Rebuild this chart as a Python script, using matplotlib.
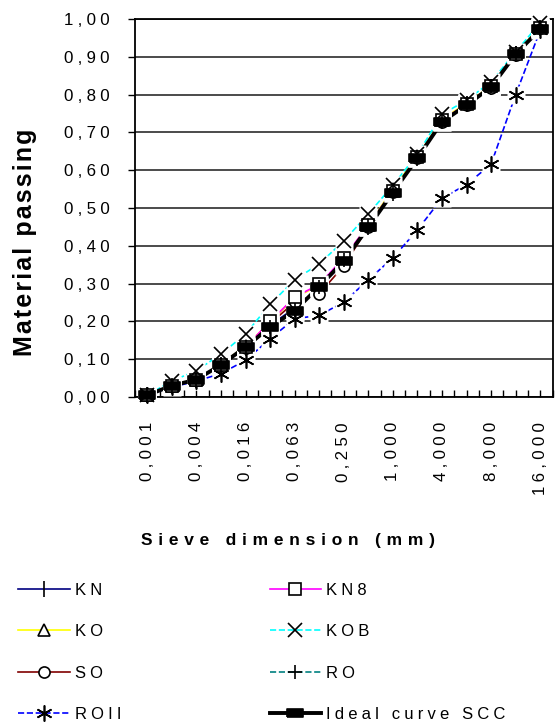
import numpy as np
import matplotlib
matplotlib.use("Agg")
import matplotlib.pyplot as plt
from matplotlib.lines import Line2D

plt.rcParams['font.family'] = ['Liberation Sans', 'DejaVu Sans']

# sieve categories (17 positions), labels on every second one
x_pos = np.arange(17)
x_label_pos = np.arange(0, 17, 2)
x_labels = ["0,001", "0,004", "0,016", "0,063", "0,250", "1,000", "4,000", "8,000", "16,000"]
y_ticks = np.arange(0, 1.01, 0.1)
y_labels = ["0,00", "0,10", "0,20", "0,30", "0,40", "0,50", "0,60", "0,70", "0,80", "0,90", "1,00"]

KN = [0.005, 0.03, 0.046, 0.085, 0.13, 0.19, 0.235, 0.29, 0.355, 0.45, 0.54, 0.632, 0.73, 0.775, 0.82, 0.908, 0.975]
KN8 = [0.005, 0.03, 0.046, 0.085, 0.132, 0.2, 0.264, 0.298, 0.368, 0.455, 0.545, 0.635, 0.732, 0.775, 0.822, 0.908, 0.975]
KO = [0.005, 0.03, 0.046, 0.087, 0.135, 0.198, 0.262, 0.296, 0.366, 0.455, 0.55, 0.637, 0.735, 0.777, 0.823, 0.91, 0.978]
KOB = [0.005, 0.042, 0.07, 0.113, 0.167, 0.245, 0.31, 0.352, 0.413, 0.484, 0.56, 0.642, 0.748, 0.785, 0.834, 0.913, 0.99]
SO = [0.005, 0.03, 0.046, 0.084, 0.13, 0.194, 0.251, 0.273, 0.347, 0.449, 0.543, 0.632, 0.727, 0.772, 0.818, 0.905, 0.975]
RO = [0.005, 0.03, 0.046, 0.085, 0.132, 0.186, 0.23, 0.292, 0.362, 0.452, 0.545, 0.635, 0.73, 0.775, 0.822, 0.909, 0.975]
ROII = [0.005, 0.026, 0.042, 0.062, 0.097, 0.154, 0.207, 0.216, 0.251, 0.31, 0.368, 0.442, 0.526, 0.562, 0.616, 0.80, 0.97]
IDEAL = [0.005, 0.03, 0.046, 0.085, 0.132, 0.185, 0.228, 0.292, 0.36, 0.449, 0.541, 0.632, 0.728, 0.772, 0.82, 0.907, 0.973]


def spaced(s, gap="\u2005"):
    return gap.join(s)


rect = [(-1, -0.45), (1, -0.45), (1, 0.45), (-1, 0.45), (-1, -0.45)]
asterisk = (6, 2, 0)

# name, values, line colour, linestyle, lw, marker, size, face
series = [
    ("KN", KN, "#000080", "-", 1.2, "|", 11, "black"),
    ("KO", KO, "#FFFF00", "-", 1.2, "^", 8, "white"),
    ("SO", SO, "#800000", "-", 1.2, "o", 8, "white"),
    ("ROII", ROII, "#0000FF", "--", 1.2, asterisk, 11.5, "black"),
    ("KN8", KN8, "#FF00FF", "-", 1.2, "s", 8, "white"),
    ("KOB", KOB, "#00FFFF", "--", 1.2, "x", 10, "black"),
    ("RO", RO, "#008080", "--", 1.2, "+", 10, "black"),
    ("Ideal curve SCC", IDEAL, "black", "-", 2.8, rect, 11.5, "black"),
]

fig = plt.figure(figsize=(5.55, 7.24), dpi=100)
ax = fig.add_axes([135 / 555, 1 - 397 / 724, (553 - 135) / 555, (397 - 19) / 724])

for y in y_ticks:
    ax.axhline(y, color="#1a1a1a", lw=1.1, zorder=1)

handles = []
for name, vals, col, ls, lw, mk, ms, face in series:
    ax.plot(x_pos, vals, color=col, ls=ls, lw=lw, zorder=2)
    handles.append(Line2D([], [], color=col, ls=ls, lw=lw, marker=mk, ms=ms,
                          mfc=face, mec="black", mew=1.2, label=spaced(name)))

# white backing behind the markers, as in the original export
for name, vals, col, ls, lw, mk, ms, face in series:
    ax.plot(x_pos, vals, ls="none", marker="s", ms=12.5, mfc="white", mec="none",
            zorder=3, clip_on=False)

for name, vals, col, ls, lw, mk, ms, face in series:
    ax.plot(x_pos, vals, ls="none", marker=mk, ms=ms, mfc=face, mec="black", mew=1.2,
            zorder=4, clip_on=False)

ax.set_xlim(-0.4, 16.52)
ax.set_ylim(0, 1)
ax.set_xticks(x_label_pos, labels=[spaced(t) for t in x_labels])
minor = [v for v in np.arange(-0.5, 16.6, 0.5) if v not in set(x_label_pos)]
ax.set_xticks(minor, minor=True)
ax.tick_params(axis="x", which="both", direction="in", length=5, width=1, pad=18, labelsize=12.2)
ax.set_yticks(y_ticks, labels=[spaced(t) for t in y_labels])
ax.tick_params(axis="y", direction="out", length=5, width=1, pad=13, labelsize=12.2)
for lab in ax.get_xticklabels():
    lab.set_rotation(90)
    lab.set_rotation_mode("anchor")
    lab.set_ha("right")
    lab.set_va("center")
for sp in ax.spines.values():
    sp.set_linewidth(1.3)

fig.text(288 / 555, 1 - 540 / 724, spaced("Sieve dimension (mm)", "\u2004"), ha="center", va="center",
         fontsize=12.5, fontweight="bold")
fig.text(25 / 555, 1 - 242 / 724, spaced("Material passing", "\u200a"), ha="center", va="center",
         rotation=90, fontsize=18, fontweight="bold")

fig.legend(handles=handles, ncol=2, loc="upper left", bbox_to_anchor=(18 / 555, 1 - 583 / 724),
           frameon=False, fontsize=12, handlelength=3.1, handletextpad=0.3,
           columnspacing=8.9, labelspacing=1.58, borderpad=0, borderaxespad=0)

fig.savefig("out.png", dpi=100)
